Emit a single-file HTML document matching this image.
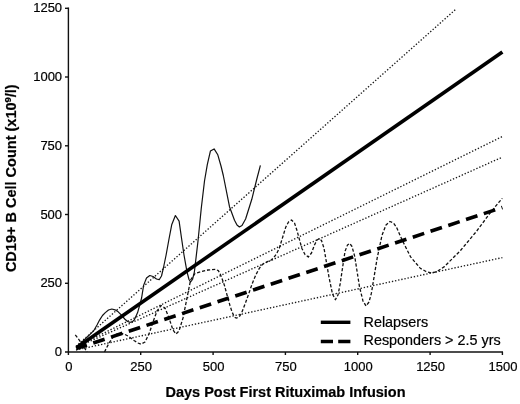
<!DOCTYPE html>
<html><head><meta charset="utf-8"><title>Chart</title>
<style>
html,body{margin:0;padding:0;background:#fff;}
svg{display:block}
text{font-family:"Liberation Sans",Arial,sans-serif;fill:#000;stroke:#000;stroke-width:0.2px}
</style></head><body>
<svg width="520" height="404" viewBox="0 0 520 404">
<rect width="520" height="404" fill="#fff"/>
<!-- dotted CI lines -->
<g stroke="#1a1a1a" stroke-width="1.35" stroke-dasharray="1.35 1.85" fill="none">
<line x1="76" y1="346.3" x2="455.8" y2="9.3"/>
<line x1="76" y1="346.8" x2="502.4" y2="136.5"/>
<line x1="76" y1="347.5" x2="502.4" y2="157.1"/>
<line x1="76" y1="350" x2="502.4" y2="257.6"/>
</g>
<!-- thin curves -->
<path d="M77.0,346.5 L82.0,342.0 L88.0,336.3 L94.0,330.3 L97.0,325.0 L99.7,319.8 L102.5,315.5 L105.3,312.6 L108.5,310.0 L111.8,309.0 L115.0,309.8 L118.2,311.8 L121.5,315.2 L124.7,319.0 L127.5,321.5 L130.3,322.3 L132.5,321.6 L134.4,319.8 L137.6,312.6 L140.0,304.0 L141.6,298.0 L143.6,285.4 L146.5,278.0 L149.8,275.5 L153.0,276.5 L156.5,279.0 L159.2,279.7 L161.5,276.0 L163.4,268.0 L166.1,255.0 L169.0,239.0 L171.7,224.8 L175.4,215.5 L179.1,221.1 L181.5,238.0 L184.0,255.0 L187.0,271.8 L189.0,279.5 L190.6,282.0 L192.5,279.5 L194.4,271.8 L198.0,241.0 L201.3,208.0 L204.5,181.0 L207.3,164.7 L210.4,151.1 L214.1,148.9 L217.8,154.8 L221.0,166.0 L223.3,175.5 L229.5,206.7 L234.5,220.3 L237.0,225.0 L239.4,227.0 L242.0,225.5 L245.6,219.0 L251.8,199.3 L256.7,179.5 L260.4,165.4" stroke="#111" stroke-width="1.2" fill="none" stroke-linejoin="round"/>
<path d="M75.3,334.9 L79.8,340.8 L84.0,347.0 L87.0,352.0 M104.5,352.0 L107.0,347.0 L109.4,342.4 L113.4,336.8 L117.0,334.0 L120.6,333.2 L124.0,334.0 L128.0,336.0 L134.4,340.8 L138.0,343.0 L141.0,344.2 L145.0,342.0 L149.0,334.0 L153.0,322.0 L157.0,311.0 L161.0,305.5 L165.0,308.0 L169.0,318.0 L173.0,330.0 L176.0,334.0 L179.0,331.0 L183.0,318.0 L187.0,298.0 L190.6,280.0 L195.0,273.5 L201.8,271.5 L208.0,270.0 L215.4,269.3 L218.3,270.6 L220.0,273.5 L222.0,278.5 L224.5,285.6 L227.3,296.0 L230.0,305.7 L232.0,311.8 L233.8,315.8 L235.3,317.6 L236.7,318.0 L238.3,317.4 L239.8,316.0 L241.5,313.3 L245.7,302.3 L249.0,293.0 L252.3,283.4 L255.8,275.0 L259.0,268.9 L261.3,265.6 L263.5,263.6 L267.0,261.8 L271.3,260.0 L274.0,257.3 L276.8,253.3 L279.3,248.2 L285.7,227.3 L288.5,222.0 L291.5,220.0 L294.5,223.0 L297.0,230.5 L301.8,248.2 L305.0,254.5 L308.3,257.0 L311.5,253.0 L314.5,245.0 L317.0,240.0 L319.3,238.6 L321.5,240.5 L324.0,248.2 L329.0,277.2 L332.5,294.0 L335.4,299.7 L338.0,295.0 L340.2,283.6 L345.0,251.4 L347.5,245.0 L349.8,243.4 L352.0,246.5 L354.7,256.3 L359.5,286.8 L363.0,301.0 L366.0,306.0 L369.0,302.0 L371.4,293.2 L377.2,257.9 L382.0,235.4 L386.0,225.0 L390.0,221.5 L393.5,223.0 L396.5,227.3 L402.5,240.8 L410.6,256.9 L420.2,268.2 L426.0,271.5 L431.5,273.0 L437.0,271.5 L444.4,266.6 L460.5,250.5 L476.6,231.2 L491.0,211.8 L499.0,202.2 L502.3,198.3" stroke="#111" stroke-width="1.3" stroke-dasharray="3.2 1.9" fill="none" stroke-linejoin="round"/>
<!-- thick lines -->
<line x1="76.5" y1="347.7" x2="502.4" y2="52" stroke="#000" stroke-width="3.6"/>
<line x1="76.25" y1="348.6" x2="502.4" y2="207.5" stroke="#000" stroke-width="3.6" stroke-dasharray="12 6.7" stroke-dashoffset="0.8"/>
<!-- axes -->
<g stroke="#111" stroke-width="1.4" fill="none">
<line x1="68.4" y1="7.6" x2="68.4" y2="355"/>
<line x1="65" y1="352" x2="503" y2="352"/>
<line x1="65" y1="8.3" x2="68.4" y2="8.3"/>
<line x1="65" y1="77" x2="68.4" y2="77"/>
<line x1="65" y1="145.8" x2="68.4" y2="145.8"/>
<line x1="65" y1="214.5" x2="68.4" y2="214.5"/>
<line x1="65" y1="283.3" x2="68.4" y2="283.3"/>
<line x1="140.7" y1="352" x2="140.7" y2="355"/>
<line x1="213.1" y1="352" x2="213.1" y2="355"/>
<line x1="285.4" y1="352" x2="285.4" y2="355"/>
<line x1="357.7" y1="352" x2="357.7" y2="355"/>
<line x1="430.1" y1="352" x2="430.1" y2="355"/>
<line x1="502.4" y1="352" x2="502.4" y2="355"/>
</g>
<g font-size="13" text-anchor="end">
<text x="62.1" y="12.4">1250</text>
<text x="62.1" y="81.1">1000</text>
<text x="62.1" y="149.9">750</text>
<text x="62.1" y="218.6">500</text>
<text x="62.1" y="287.4">250</text>
<text x="62.1" y="356.1">0</text>
</g>
<g font-size="13" text-anchor="middle">
<text x="68.9" y="371.1">0</text>
<text x="141.2" y="371.1">250</text>
<text x="213.6" y="371.1">500</text>
<text x="285.9" y="371.1">750</text>
<text x="358.2" y="371.1">1000</text>
<text x="430.6" y="371.1">1250</text>
<text x="502.9" y="371.1">1500</text>
</g>
<text x="285.5" y="397.2" font-size="14.5" font-weight="bold" text-anchor="middle">Days Post First Rituximab Infusion</text>
<text transform="translate(16.1,178.2) rotate(-90)" font-size="14.5" font-weight="bold" text-anchor="middle">CD19+ B Cell Count (x10<tspan font-size="9.5" dy="-5">9</tspan><tspan dy="5">/l)</tspan></text>
<!-- legend -->
<line x1="320.8" y1="322.3" x2="350.4" y2="322.3" stroke="#000" stroke-width="3.4"/>
<line x1="320.8" y1="341.5" x2="350.4" y2="341.5" stroke="#000" stroke-width="3.4" stroke-dasharray="12.2 5.2"/>
<text x="363.5" y="326.7" font-size="14.4">Relapsers</text>
<text x="363.5" y="345.4" font-size="14.4">Responders &gt; 2.5 yrs</text>
</svg>
</body></html>
